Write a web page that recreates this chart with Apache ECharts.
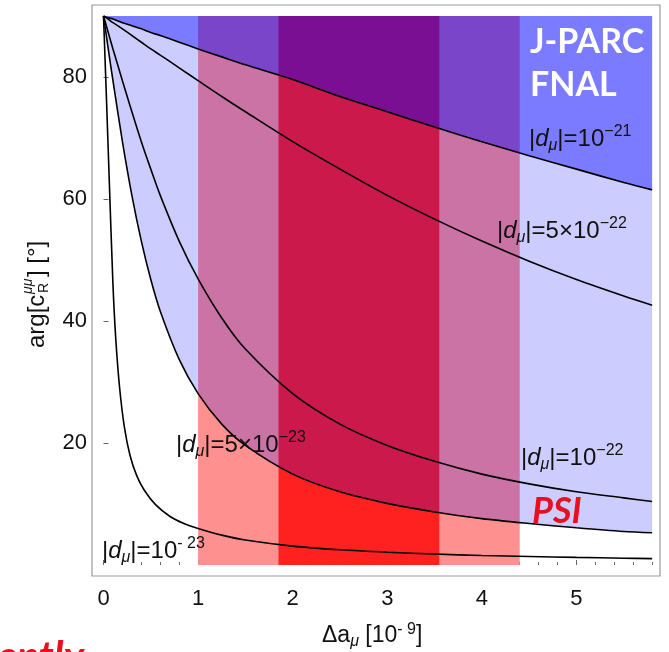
<!DOCTYPE html>
<html>
<head>
<meta charset="utf-8">
<title>arg c_R vs Δa_μ</title>
<script src="https://cdn.jsdelivr.net/npm/echarts@6.0.0/dist/echarts.min.js"></script>
<style>
  html, body { margin:0; padding:0; background:#fff; }
  #chart { width:669px; height:652px; }
</style>
</head>
<body>
<div id="chart"></div>
<script>
// Δa_μ [10^-9] sample points
var xs = [0, 0.05, 0.1, 0.2, 0.3, 0.4, 0.5, 0.6, 0.8, 1, 1.25, 1.5, 2, 2.5, 3, 3.5, 4, 4.5, 5, 5.5, 5.8];
var xsLow = [0, 0.03, 0.06, 0.1, 0.13, 0.17, 0.22, 0.28, 0.35, 0.43, 0.55, 0.7, 0.85, 1, 1.25, 1.5, 2, 2.5, 3, 3.5, 4, 4.5, 5, 5.5, 5.8];

// arg[c_R] in degrees, one curve per |d_mu|
var d1e21 = [90, 89.7, 89.5, 88.9, 88.4, 87.9, 87.3, 86.8, 85.7, 84.6, 83.3, 82.0, 79.6, 76.8, 74.3, 71.8, 69.4, 67.1, 64.9, 62.7, 61.5];
var d5e22 = [90, 89.5, 88.9, 87.9, 86.8, 85.7, 84.6, 83.6, 81.5, 79.4, 76.8, 74.3, 69.4, 64.9, 60.6, 56.7, 53.1, 49.8, 46.8, 44.1, 42.6];
var d1e22 = [90, 87.3, 84.6, 79.4, 74.3, 69.4, 64.9, 60.6, 53.1, 46.9, 40.5, 35.4, 28.1, 23.1, 19.6, 17.0, 14.9, 13.3, 12.0, 11.0, 10.4];
var d5e23 = [90, 84.6, 79.4, 69.4, 60.6, 53.1, 46.8, 41.6, 33.7, 28.1, 23.1, 19.6, 14.9, 12.0, 10.1, 8.7, 7.6, 6.8, 6.1, 5.5, 5.3];
var d1e23 = [90, 77, 63.5, 46, 37, 29.1, 22.7, 18.0, 14.7, 12.3, 9.9, 8.0, 6.8, 6.0, 4.9, 4.1, 3.1, 2.5, 2.1, 1.8, 1.55, 1.4, 1.25, 1.12, 1.05];

// red Δa_μ bands
var bandOuter = [1.0, 4.4];
var bandInner = [1.85, 3.55];

var xTicks = [0, 1, 2, 3, 4, 5];
var xMinor = [0.2, 0.4, 0.6, 0.8, 1.2, 1.4, 1.6, 1.8, 2.2, 2.4, 2.6, 2.8, 3.2, 3.4, 3.6, 3.8, 4.2, 4.4, 4.6, 4.8, 5.2, 5.4, 5.6, 5.8];
var yTicks = [20, 40, 60, 80];

var F = '"Liberation Sans", Arial, sans-serif';
var L = 'Lato, "Open Sans", sans-serif';
var TXT = '#111';
var RED = '#e8101e';

function pairs(x, y) {
  return x.map(function (v, i) { return [v, y[i]]; });
}

function curve(name, x, y, extra) {
  var s = {
    name: name, type: 'line', xAxisIndex: 0, yAxisIndex: 0,
    data: pairs(x, y), smooth: 0.3, symbol: 'none', silent: true,
    lineStyle: { color: '#000', width: 1.6 },
    z: 3
  };
  for (var k in extra) s[k] = extra[k];
  return s;
}

// rich styles for the |d_mu| labels
var rich = {
  b: { fontSize: 24, lineHeight: 30, fontFamily: F, fill: TXT },
  i: { fontSize: 24, lineHeight: 30, fontFamily: F, fontStyle: 'italic', fill: TXT },
  sub: { fontSize: 16, lineHeight: 14, fontFamily: F, fontStyle: 'italic', verticalAlign: 'bottom', fill: TXT },
  sup: { fontSize: 16, lineHeight: 14, fontFamily: F, verticalAlign: 'top', fill: TXT }
};

function dLabel(x, y, rest, exp) {
  return {
    type: 'text', x: x, y: y, z: 10,
    style: { text: '{b||}{i|d}{sub|μ}{b||=' + rest + '}{sup|' + exp + '}', rich: rich, fill: TXT, fontFamily: F, fontSize: 24 }
  };
}

var chart = echarts.init(document.getElementById('chart'));

chart.setOption({
  animation: false,
  grid: [
    { left: 92, top: 16, width: 568, height: 560, show: false },
    { left: 92, top: 5, width: 568, height: 571, show: true, borderColor: '#999', borderWidth: 1.2, backgroundColor: 'transparent' }
  ],
  xAxis: [
    {
      type: 'value', gridIndex: 0, min: -0.1216, max: 5.883, position: 'bottom',
      axisLine: { show: false }, splitLine: { show: false },
      axisLabel: { show: false },
      axisTick: { inside: true, length: 3, customValues: xMinor, lineStyle: { color: '#666' } }
    },
    {
      type: 'value', gridIndex: 1, min: -0.1216, max: 5.883, position: 'bottom',
      axisLine: { show: false }, splitLine: { show: false },
      axisTick: { inside: true, length: 5, customValues: xTicks, lineStyle: { color: '#666' } },
      axisLabel: { customValues: xTicks, margin: 12, fontSize: 22, fontFamily: F, color: TXT }
    }
  ],
  yAxis: [
    { type: 'value', gridIndex: 0, min: -1.8, max: 90, show: false },
    {
      type: 'value', gridIndex: 1, min: -1.8, max: 91.8,
      axisLine: { show: false }, splitLine: { show: false },
      axisTick: { inside: true, length: 5, customValues: yTicks, lineStyle: { color: '#666' } },
      axisLabel: { customValues: yTicks, margin: 5, fontSize: 22, fontFamily: F, color: TXT }
    }
  ],
  series: [
    curve('|d|=1e-23', xsLow, d1e23, {
      markArea: {
        silent: true,
        data: [
          [{ xAxis: bandOuter[0], yAxis: 0, itemStyle: { color: '#ff9090', opacity: 1 } }, { xAxis: bandOuter[1], yAxis: 90 }],
          [{ xAxis: bandInner[0], yAxis: 0, itemStyle: { color: '#ff2020', opacity: 1 } }, { xAxis: bandInner[1], yAxis: 90 }]
        ]
      }
    }),
    curve('|d|=5e-23', xs, d5e23, { z: 2, areaStyle: { origin: 'end', color: 'rgba(0,0,255,0.2)', opacity: 1 } }),
    curve('|d|=1e-21', xs, d1e21, { z: 2, areaStyle: { origin: 'end', color: 'rgba(0,0,255,0.4)', opacity: 1 } }),
    curve('|d|=5e-22', xs, d5e22),
    curve('|d|=1e-22', xs, d1e22)
  ],
  graphic: [
    { type: 'text', x: 530, y: 42, z: 10, style: { text: 'J-PARC', fill: '#fff', fontFamily: L, fontWeight: 'bold', fontSize: 34, verticalAlign: 'middle' } },
    { type: 'text', x: 530, y: 85, z: 10, style: { text: 'FNAL', fill: '#fff', fontFamily: L, fontWeight: 'bold', fontSize: 34, verticalAlign: 'middle' } },
    dLabel(529, 124, '10', '−21'),
    dLabel(497, 216, '5×10', '−22'),
    dLabel(521, 443, '10', '−22'),
    dLabel(176, 430, '5×10', '−23'),
    dLabel(102, 536, '10', '- 23'),
    { type: 'text', x: 532, y: 511, z: 10, style: { text: 'PSI', fill: RED, fontFamily: L, fontWeight: 'bold', fontStyle: 'italic', fontSize: 36, verticalAlign: 'middle' } },
    // word cut off by the bottom edge of the slide crop
    { type: 'text', x: -3, y: 636, z: 10, style: { text: 'ently', fill: RED, fontFamily: L, fontWeight: 'bold', fontStyle: 'italic', fontSize: 41, verticalAlign: 'top' } },
    // x axis title
    {
      type: 'text', x: 322, y: 622, z: 10,
      style: {
        text: '{b|Δa}{sub|μ}{b| [10}{sup|- 9}{b|]}',
        fill: TXT, fontFamily: F, fontSize: 23,
        rich: {
          b: { fontSize: 23, lineHeight: 28, fontFamily: F, fill: TXT },
          sub: { fontSize: 16, lineHeight: 13, fontFamily: F, fontStyle: 'italic', verticalAlign: 'bottom', fill: TXT },
          sup: { fontSize: 16, lineHeight: 13, fontFamily: F, verticalAlign: 'top', fill: TXT }
        }
      }
    },
    // y axis title, rotated to read upwards
    {
      type: 'group', x: 37, y: 291, rotation: Math.PI / 2, z: 10,
      children: [
        { type: 'text', x: -57, y: 0, style: { text: 'arg[c', fill: TXT, fontFamily: F, fontSize: 24, verticalAlign: 'middle' } },
        { type: 'text', x: -3, y: -9, style: { text: 'μμ', fill: TXT, fontFamily: F, fontSize: 14, fontStyle: 'italic', verticalAlign: 'middle' } },
        { type: 'text', x: -2, y: 7, style: { text: 'R', fill: TXT, fontFamily: F, fontSize: 14, verticalAlign: 'middle' } },
        { type: 'text', x: 14, y: 0, style: { text: '] [°]', fill: TXT, fontFamily: F, fontSize: 24, verticalAlign: 'middle' } }
      ]
    }
  ]
});
</script>
</body>
</html>
